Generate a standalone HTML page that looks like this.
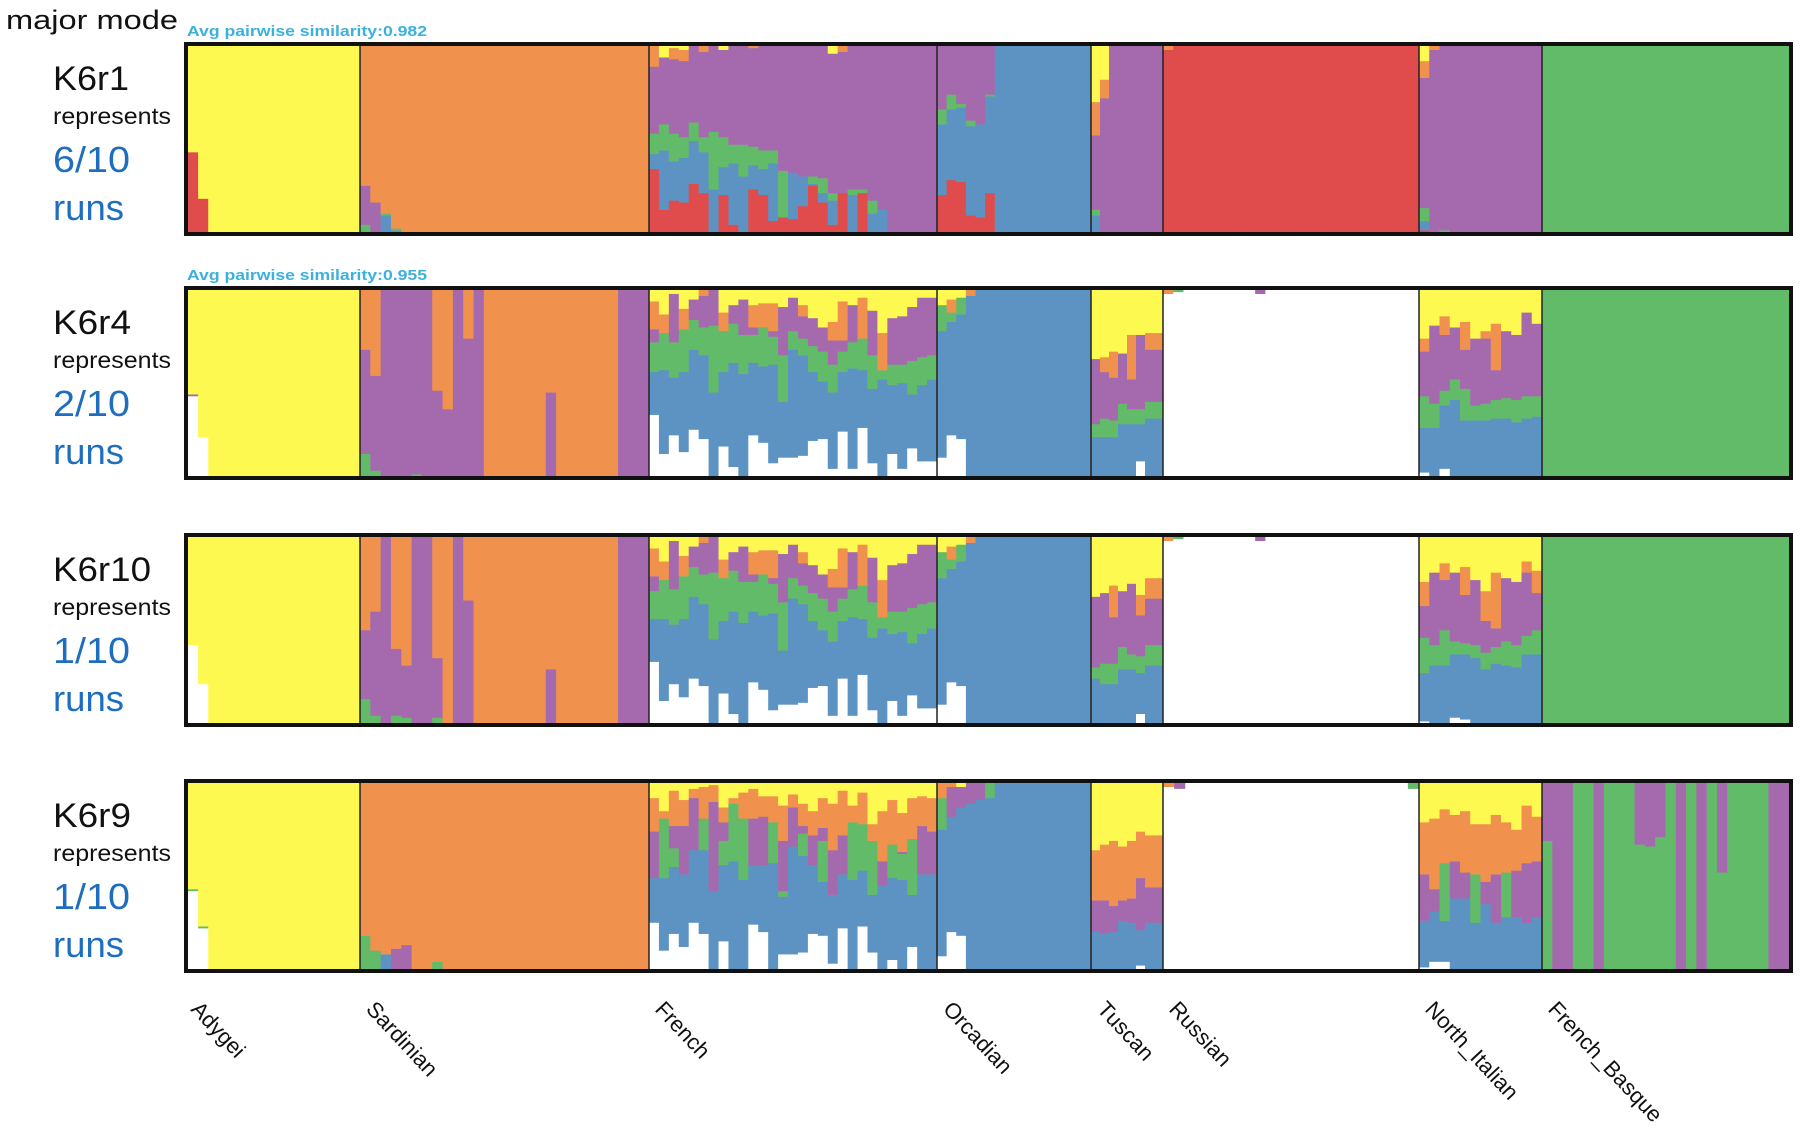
<!DOCTYPE html>
<html><head><meta charset="utf-8"><title>K6 structure modes</title>
<style>
html,body{margin:0;padding:0;background:#fff;}
svg{display:block;}
text{font-family:"Liberation Sans",sans-serif;}
</style></head>
<body>
<svg id="chart" width="1800" height="1143" viewBox="0 0 1800 1143" xmlns="http://www.w3.org/2000/svg">
<text x="6" y="29" font-size="27" fill="#111" textLength="172" lengthAdjust="spacingAndGlyphs">major mode</text>
<g id="panels"></g>
<g id="labels"></g>
</svg>
<script>
// ---- data: each individual = [k1, blue, green, purple, orange, yellow] (%), bottom -> top
const groupNames = ["Adygei","Sardinian","French","Orcadian","Tuscan","Russian","North_Italian","French_Basque"];
const runNames = ["K6r1","K6r4","K6r10","K6r9"];
const runShares = ["6/10","2/10","1/10","1/10"];
const similarityLabels = ["Avg pairwise similarity:0.982","Avg pairwise similarity:0.955",null,null];
const k1Colors = ["#e04b4b","#ffffff","#ffffff","#ffffff"];

const Y=[0,0,0,0,0,100], O=[0,0,0,0,100,0], P=[0,0,0,100,0,0], G=[0,0,100,0,0,0], B=[0,100,0,0,0,0], R=[100,0,0,0,0,0];

const run1 = [
 [[43,0,0,0,0,57],[18,0,0,0,0,82],Y,Y,Y,Y,Y,Y,Y,Y,Y,Y,Y,Y,Y,Y,Y],
 [[0,0,4,21,75,0],[0,0,0,16,84,0],[0,9,1,0,90,0],[0,1,1,0,98,0],O,O,O,O,O,O,O,O,O,O,O,O,O,O,O,O,O,O,O,O,O,O,O,O],
 [[34,8,11,36,11,0],[12,32,14,36,0,6],[17,21,15,40,6,1],[16,24,11,41,6,2],[26,23,10,41,0,0],[21,22,8,46,3,0],[0,23,31,46,0,0],[20,15,16,47,0,2],[4,33,10,53,0,0],[0,30,17,53,0,0],[23,13,10,53,1,0],[20,14,10,56,0,0],[6,31,7,56,0,0],[8,0,25,67,0,0],[7,25,0,68,0,0],[14,16,0,70,0,0],[25,1,4,70,0,0],[16,5,8,71,0,0],[4,13,4,75,0,4],[21,0,0,76,3,0],[0,20,3,77,0,0],[21,0,2,77,0,0],[0,10,7,83,0,0],[0,12,0,88,0,0],P,P,P,P,P],
 [[20,38,8,34,0,0],[28,38,8,26,0,0],[27,40,2,31,0,0],[9,48,3,40,0,0],[8,50,0,42,0,0],[21,52,1,26,0,0],B,B,B,B,B,B,B,B,B,B],
 [[0,9,3,40,18,30],[0,0,0,72,10,18],P,P,P,P,P,P],
 [[98,0,0,0,2,0],R,R,R,R,R,R,R,R,R,R,R,R,R,R,R,R,R,R,R,R,R,R,R,R],
 [[1,5,7,70,9,8],[0,0,0,98,2,0],[0,0,1,99,0,0],P,P,P,P,P,P,P,P,P],
 [G,G,G,G,G,G,G,G,G,G,G,G,G,G,G,G,G,G,G,G,G,G,G,G]
];

const run4 = [
 [[43,0,0,1,0,56],[21,0,0,0,0,79],Y,Y,Y,Y,Y,Y,Y,Y,Y,Y,Y,Y,Y,Y,Y],
 [[0,0,12,56,32,0],[0,0,3,51,46,0],P,P,P,[0,0,1,99,0,0],P,[0,0,0,46,54,0],[0,0,0,36,64,0],P,[0,0,0,74,26,0],P,O,O,O,O,O,O,[0,0,0,45,55,0],O,O,O,O,O,O,P,P,P],
 [[33,23,16,7,15,6],[12,45,20,0,10,13],[22,31,19,26,0,2],[13,43,23,0,11,10],[25,43,16,11,0,5],[20,45,15,17,3,0],[0,45,36,19,0,0],[16,40,22,0,10,12],[5,56,21,10,0,8],[0,55,21,19,0,5],[22,39,15,4,12,8],[18,41,21,0,13,7],[7,53,15,3,15,7],[10,30,25,26,0,9],[10,58,10,18,0,4],[11,54,9,12,6,8],[19,37,14,15,0,15],[20,31,16,13,0,20],[4,41,15,13,10,17],[24,32,11,6,21,6],[4,54,14,20,0,8],[26,31,17,0,22,4],[7,40,18,24,0,11],[0,52,5,0,20,23],[12,37,11,25,0,15],[4,46,10,26,0,14],[15,29,18,29,0,9],[8,41,15,32,0,4],[8,44,13,31,0,4]],
 [[10,68,14,0,0,8],[22,61,5,0,7,5],[20,67,9,0,0,4],[0,97,0,0,3,0],B,B,B,B,B,B,B,B,B,B,B,B],
 [[0,21,7,35,0,37],[0,21,10,25,8,36],[0,21,9,23,14,33],[0,28,11,27,0,34],[0,28,8,16,24,24],[8,20,8,40,0,24],[0,31,9,28,9,23],[0,31,9,28,9,23]],
 [[98,0,0,0,2,0],[99,0,1,0,0,0],R,R,R,R,R,R,R,[98,0,0,2,0,0],R,R,R,R,R,R,R,R,R,R,R,R,R,R,R],
 [[2,24,17,24,7,26],[0,26,13,42,0,19],[4,34,8,30,10,14],[0,41,11,28,0,20],[0,30,17,21,15,17],[0,30,8,36,0,26],[0,30,9,35,4,22],[0,31,10,16,25,18],[0,31,11,36,0,22],[0,29,12,35,0,24],[0,31,12,45,0,12],[0,32,11,39,0,18]],
 [G,G,G,G,G,G,G,G,G,G,G,G,G,G,G,G,G,G,G,G,G,G,G,G]
];

const run10 = [
 [[42,0,0,0,0,58],[21,0,0,0,0,79],Y,Y,Y,Y,Y,Y,Y,Y,Y,Y,Y,Y,Y,Y,Y],
 [[0,0,13,37,50,0],[0,0,4,56,40,0],P,[0,0,4,36,60,0],[0,0,3,28,69,0],P,P,[0,0,3,32,65,0],O,P,[0,0,0,66,34,0],O,O,O,O,O,O,O,[0,0,0,29,71,0],O,O,O,O,O,O,P,P,P],
 [[33,23,15,8,15,6],[12,44,21,0,10,13],[21,32,19,26,0,2],[14,42,23,0,11,10],[24,44,16,11,0,5],[20,44,16,17,3,0],[0,45,36,19,0,0],[16,39,23,0,10,12],[5,55,22,10,0,8],[0,54,22,19,0,5],[22,38,16,4,12,8],[18,40,22,0,13,7],[7,52,16,3,15,7],[10,29,26,26,0,9],[10,57,11,18,0,4],[11,53,10,12,6,8],[19,36,15,15,0,15],[20,30,17,13,0,20],[4,40,16,13,10,17],[24,31,12,6,21,6],[4,53,15,20,0,8],[26,30,18,0,22,4],[7,39,19,24,0,11],[0,51,6,0,20,23],[12,36,12,25,0,15],[4,45,11,26,0,14],[15,28,19,29,0,9],[8,40,16,32,0,4],[8,43,14,31,0,4]],
 [[10,68,14,0,0,8],[22,61,5,0,7,5],[20,67,9,0,0,4],[0,97,0,0,3,0],B,B,B,B,B,B,B,B,B,B,B,B],
 [[0,24,6,38,0,32],[0,21,11,38,0,30],[0,21,11,25,17,26],[0,29,12,30,0,29],[0,29,8,38,0,25],[5,22,9,22,11,31],[0,31,11,25,11,22],[0,31,11,25,11,22]],
 [[98,0,0,0,2,0],[99,0,1,0,0,0],R,R,R,R,R,R,R,[98,0,0,2,0,0],R,R,R,R,R,R,R,R,R,R,R,R,R,R,R],
 [[1,26,19,17,13,24],[0,31,11,39,0,19],[0,31,19,27,9,14],[3,34,7,37,0,19],[2,35,6,26,15,16],[0,35,7,35,0,23],[0,29,9,17,16,29],[0,32,9,10,30,19],[0,31,13,34,0,22],[0,30,12,34,0,24],[0,37,10,34,6,13],[0,37,13,20,12,18]],
 [G,G,G,G,G,G,G,G,G,G,G,G,G,G,G,G,G,G,G,G,G,G,G,G]
];

const run9 = [
 [[42,0,1,0,0,57],[22,0,1,0,0,77],Y,Y,Y,Y,Y,Y,Y,Y,Y,Y,Y,Y,Y,Y,Y],
 [[0,0,18,0,82,0],[0,0,10,0,90,0],[0,8,0,0,92,0],[0,0,0,11,89,0],[0,0,0,13,87,0],O,O,[0,0,4,0,96,0],O,O,O,O,O,O,O,O,O,O,O,O,O,O,O,O,O,O,O,O],
 [[25,24,0,25,18,8],[10,39,32,0,4,15],[19,36,10,12,19,4],[12,39,0,26,14,9],[25,39,0,28,5,3],[19,45,17,0,17,2],[0,42,0,48,9,1],[15,41,13,10,8,13],[0,58,31,0,3,8],[0,48,33,0,14,5],[24,32,0,25,16,3],[20,36,0,26,11,7],[0,57,22,0,14,7],[8,31,3,27,19,12],[8,58,0,21,7,6],[9,52,12,4,12,11],[19,37,0,16,13,15],[18,29,22,7,16,8],[3,37,0,24,25,11],[22,29,0,21,24,4],[0,48,31,0,9,12],[23,30,25,0,17,5],[9,31,29,0,9,22],[0,45,0,13,27,15],[5,44,18,0,24,9],[0,48,14,1,21,16],[12,28,30,0,22,8],[0,51,0,26,16,7],[0,51,0,23,18,8]],
 [[7,68,17,0,8,0],[20,62,0,16,2,0],[18,69,0,11,0,2],[0,89,0,11,0,0],[0,91,0,9,0,0],[0,92,8,0,0,0],B,B,B,B,B,B,B,B,B,B],
 [[0,20,0,17,27,36],[0,19,0,18,30,33],[0,20,0,14,35,31],[0,26,0,11,29,34],[0,25,0,13,31,31],[2,19,0,28,25,26],[0,25,0,19,28,28],[0,25,0,19,28,28]],
 [[98,0,0,0,2,0],[97,0,0,3,0,0],R,R,R,R,R,R,R,R,R,R,R,R,R,R,R,R,R,R,R,R,[97,0,3,0,0,0]],
 [[1,25,0,25,28,21],[4,27,0,12,38,19],[4,22,31,0,29,14],[0,38,0,20,25,17],[0,38,0,14,33,15],[0,25,26,0,27,22],[0,35,0,12,31,22],[0,25,0,26,32,17],[0,28,24,0,27,21],[0,28,0,25,22,25],[0,25,0,32,31,12],[0,28,0,30,24,18]],
 [[0,0,69,31,0,0],P,P,G,G,P,G,G,G,[0,0,67,33,0,0],[0,0,66,34,0,0],[0,0,71,29,0,0],G,P,G,P,G,[0,0,52,48,0,0],G,G,G,G,P,P]
];
const runs = [run1, run4, run10, run9];

// ---- layout (pixels, not data)
const clusterColors = [null,"#5d93c2","#62bb69","#a56aae","#f0924e","#fdf950"];
const groupEdges = [188,360,649,937,1091,1163,1419,1542,1789];
const panelTops = [42,286,533,779];
const nameWidths = [76,78,98,78];
const panelH = 194, border = 4;
const NS = "http://www.w3.org/2000/svg";

function mk(tag, attrs, parent){
  const e = document.createElementNS(NS, tag);
  for (const k in attrs) e.setAttribute(k, attrs[k]);
  parent.appendChild(e);
  return e;
}

const panelsG = document.getElementById("panels");
runs.forEach((run, ri) => {
  const top = panelTops[ri];
  const innerTop = top + border, innerBot = top + panelH - border;
  const yScale = v => (v / 100) * (innerBot - innerTop);
  const pg = mk("g", {}, panelsG);
  
  

  run.forEach((grp, gi) => {
    const x0 = groupEdges[gi], x1 = groupEdges[gi+1];
    const w = (x1 - x0) / grp.length;
    const gg = mk("g", {}, pg);
    
    
    grp.forEach((ind, ii) => {
      const sum = ind.reduce((a,b)=>a+b,0) || 1;
      let acc = 0;
      const xi = x0 + ii * w;
      ind.forEach((v, ki) => {
        if (v <= 0) return;
        const frac = v / sum * 100;
        const h = yScale(frac);
        const yb = innerBot - yScale(acc);
        acc += frac;
        const color = ki === 0 ? k1Colors[ri] : clusterColors[ki];
        const r = mk("rect", {x: xi.toFixed(2), y: (yb - h).toFixed(2), width: (w + 0.6).toFixed(2), height: (h + 0.3).toFixed(2), fill: color}, gg);
        
        
      });
    });
  });
  for (let gi = 1; gi < groupEdges.length - 1; gi++) {
    const l = mk("line", {x1: groupEdges[gi], x2: groupEdges[gi], y1: innerTop, y2: innerBot, stroke: "#222", "stroke-width": 1.5}, pg);
    
    
  }
  const fr = mk("rect", {x: 186, y: top + 2, width: 1605, height: panelH - 4, fill: "none", stroke: "#111", "stroke-width": 4}, pg);
  
  

  const t1 = mk("text", {x: 53, y: top + 48, "font-size": 34, fill: "#111", textLength: nameWidths[ri], lengthAdjust: "spacingAndGlyphs"}, pg);
  t1.textContent = runNames[ri];
  
  
  const t2 = mk("text", {x: 53, y: top + 82, "font-size": 23, fill: "#111", textLength: 118, lengthAdjust: "spacingAndGlyphs"}, pg);
  t2.textContent = "represents";
  
  
  const t3 = mk("text", {x: 53, y: top + 130, "font-size": 36, fill: "#1e6ebf", textLength: 77, lengthAdjust: "spacingAndGlyphs"}, pg);
  t3.textContent = runShares[ri];
  
  
  const t4 = mk("text", {x: 53, y: top + 178, "font-size": 36, fill: "#1e6ebf", textLength: 71, lengthAdjust: "spacingAndGlyphs"}, pg);
  t4.textContent = "runs";
  
  

  if (similarityLabels[ri]) {
    const s = mk("text", {x: 187, y: top - 6, "font-size": 15, "font-weight": "bold", fill: "#3cb1dc", textLength: 240, lengthAdjust: "spacingAndGlyphs"}, pg);
    s.textContent = similarityLabels[ri];
    
    
  }
});

const labelsG = document.getElementById("labels");
groupNames.forEach((name, gi) => {
  const x = groupEdges[gi] + (gi === 0 ? 2 : 5), y = 1010;
  const t = mk("text", {x: x, y: y, "font-size": 22, fill: "#111", transform: `rotate(47 ${x} ${y})`}, labelsG);
  t.textContent = name;
  
  
});
</script>
</body></html>
